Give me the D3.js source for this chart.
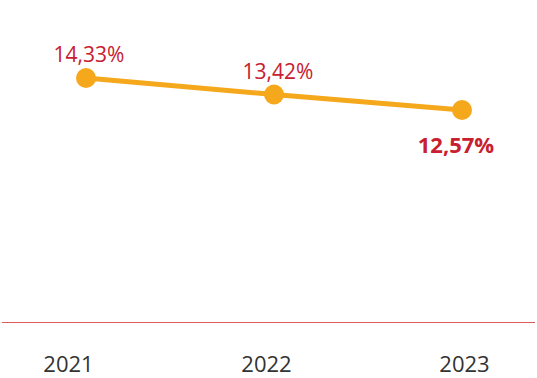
<!DOCTYPE html>
<html><head><meta charset="utf-8">
<script src="https://cdn.jsdelivr.net/npm/d3@7"></script>
<style>html,body{margin:0;padding:0;background:#fff;}svg{display:block;}</style>
</head><body>
<svg id="c" width="537" height="378"></svg>
<script>
const years = ["2021", "2022", "2023"];
const values = [14.33, 13.42, 12.57];
const valueLabels = ["14,33%", "13,42%", "12,57%"];

const svg = d3.select("#c");
const font = "'Open Sans', 'Noto Sans', sans-serif";

const xLab = d3.scalePoint().domain(years).range([68, 464]);
const x = d3.scalePoint().domain(years).range([86, 462]);
const y = d3.scaleLinear().domain([12.57, 14.33]).range([110, 78]);

// baseline axis
const axis = d3.axisBottom(xLab).tickSize(0).tickPadding(0);
const g = svg.append("g").attr("transform", "translate(0,322)").call(axis);
g.select(".domain").remove();
g.selectAll("text").attr("y", 50).attr("dy", null)
  .attr("font-family", font).attr("font-size", 22).attr("fill", "#333");
svg.append("line").attr("x1", 2).attr("x2", 535).attr("y1", 322.5).attr("y2", 322.5)
  .attr("stroke", "#e05a5f").attr("stroke-width", 1);

const data = years.map((d, i) => ({ year: d, value: values[i], label: valueLabels[i] }));

svg.append("path").datum(data)
  .attr("d", d3.line().x(d => x(d.year)).y(d => y(d.value)))
  .attr("fill", "none").attr("stroke", "#f6a81c").attr("stroke-width", 5);

svg.selectAll("circle.pt").data(data).enter().append("circle")
  .attr("cx", d => x(d.year)).attr("cy", d => y(d.value)).attr("r", 10)
  .attr("fill", "#f6a81c");

svg.selectAll("text.lbl").data(data).enter().append("text")
  .attr("x", (d, i) => x(d.year) + (i === 0 ? 3 : i === 1 ? 4 : -6))
  .attr("y", (d, i) => i === 2 ? y(d.value) + 43 : y(d.value) - 16)
  .attr("text-anchor", "middle")
  .attr("font-family", font).attr("font-size", (d, i) => i === 2 ? 22 : 21)
  .attr("font-weight", (d, i) => i === 2 ? 700 : 400)
  .attr("fill", "#c8202f")
  .text(d => d.label);
</script>
</body></html>
